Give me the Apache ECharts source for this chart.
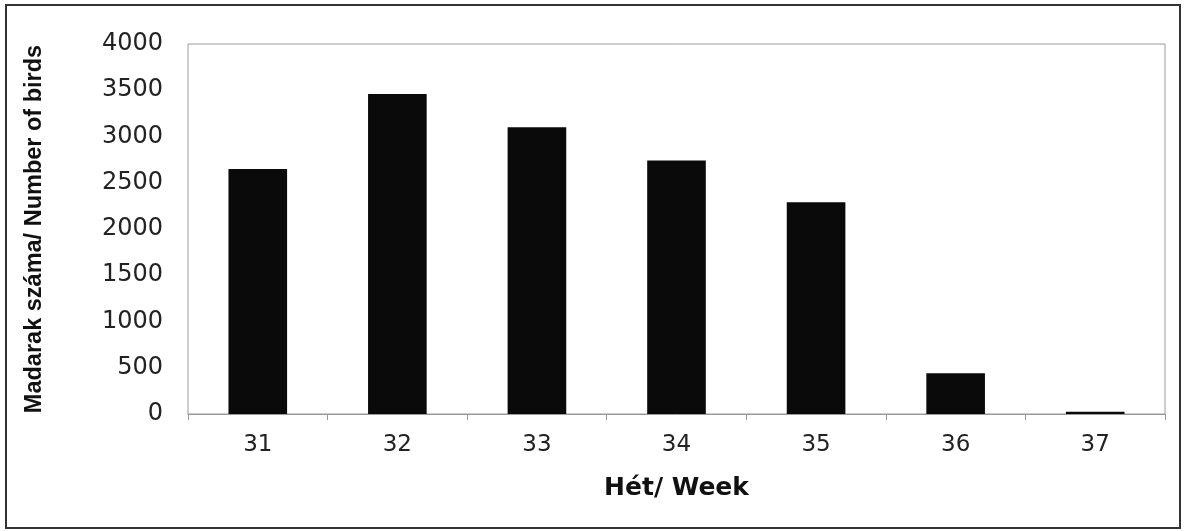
<!DOCTYPE html>
<html><head><meta charset="utf-8">
<script src="https://cdn.jsdelivr.net/npm/echarts@6/dist/echarts.min.js"></script>
<style>html,body{margin:0;padding:0;background:#fff}#c{width:1186px;height:531px}</style>
</head><body><div id="c"></div>
<script>
const weeks = ['31','32','33','34','35','36','37'];
const birds = [2650, 3460, 3100, 2740, 2290, 440, 25];
const yTicks = [0, 500, 1000, 1500, 2000, 2500, 3000, 3500, 4000];
const xTitle = 'Hét/ Week';
const yTitle = 'Madarak száma/ Number of birds';

const chart = echarts.init(document.getElementById('c'), null, {renderer:'canvas'});
chart.setOption({
  animation:false,
  backgroundColor:'#fff',
  graphic:[{type:'rect', shape:{x:6,y:5,width:1174,height:523}, style:{fill:null, stroke:'#333', lineWidth:2}, silent:true}],
  grid:{left:188, right:21, top:44, bottom:117, show:true, borderColor:'#9a9a9a', borderWidth:1, backgroundColor:'#fff'},
  xAxis:{type:'category', data:weeks, name:xTitle, nameLocation:'middle', nameGap:62,
    nameTextStyle:{fontFamily:'DejaVu Sans', fontWeight:'bold', fontSize:25, color:'#111'},
    axisLine:{lineStyle:{color:'#9a9a9a'}}, axisTick:{show:true, length:6, lineStyle:{color:'#9a9a9a'}},
    axisLabel:{fontFamily:'DejaVu Sans', fontSize:23, color:'#222', margin:20}},
  yAxis:{type:'value', min:0, max:4000, interval:500, name:yTitle, nameLocation:'middle', nameGap:141,
    nameTextStyle:{fontFamily:'Liberation Sans, Arial', fontWeight:'bold', fontSize:23.5, color:'#111'},
    axisLine:{show:false}, axisTick:{show:false}, splitLine:{show:false},
    axisLabel:{fontFamily:'DejaVu Sans', fontSize:24, color:'#222', margin:25,
      formatter:v=> yTicks.includes(v) ? String(v) : ''}},
  series:[{type:'bar', data:birds, barWidth:'42%', itemStyle:{color:'#0a0a0a'}}]
});
</script></body></html>
